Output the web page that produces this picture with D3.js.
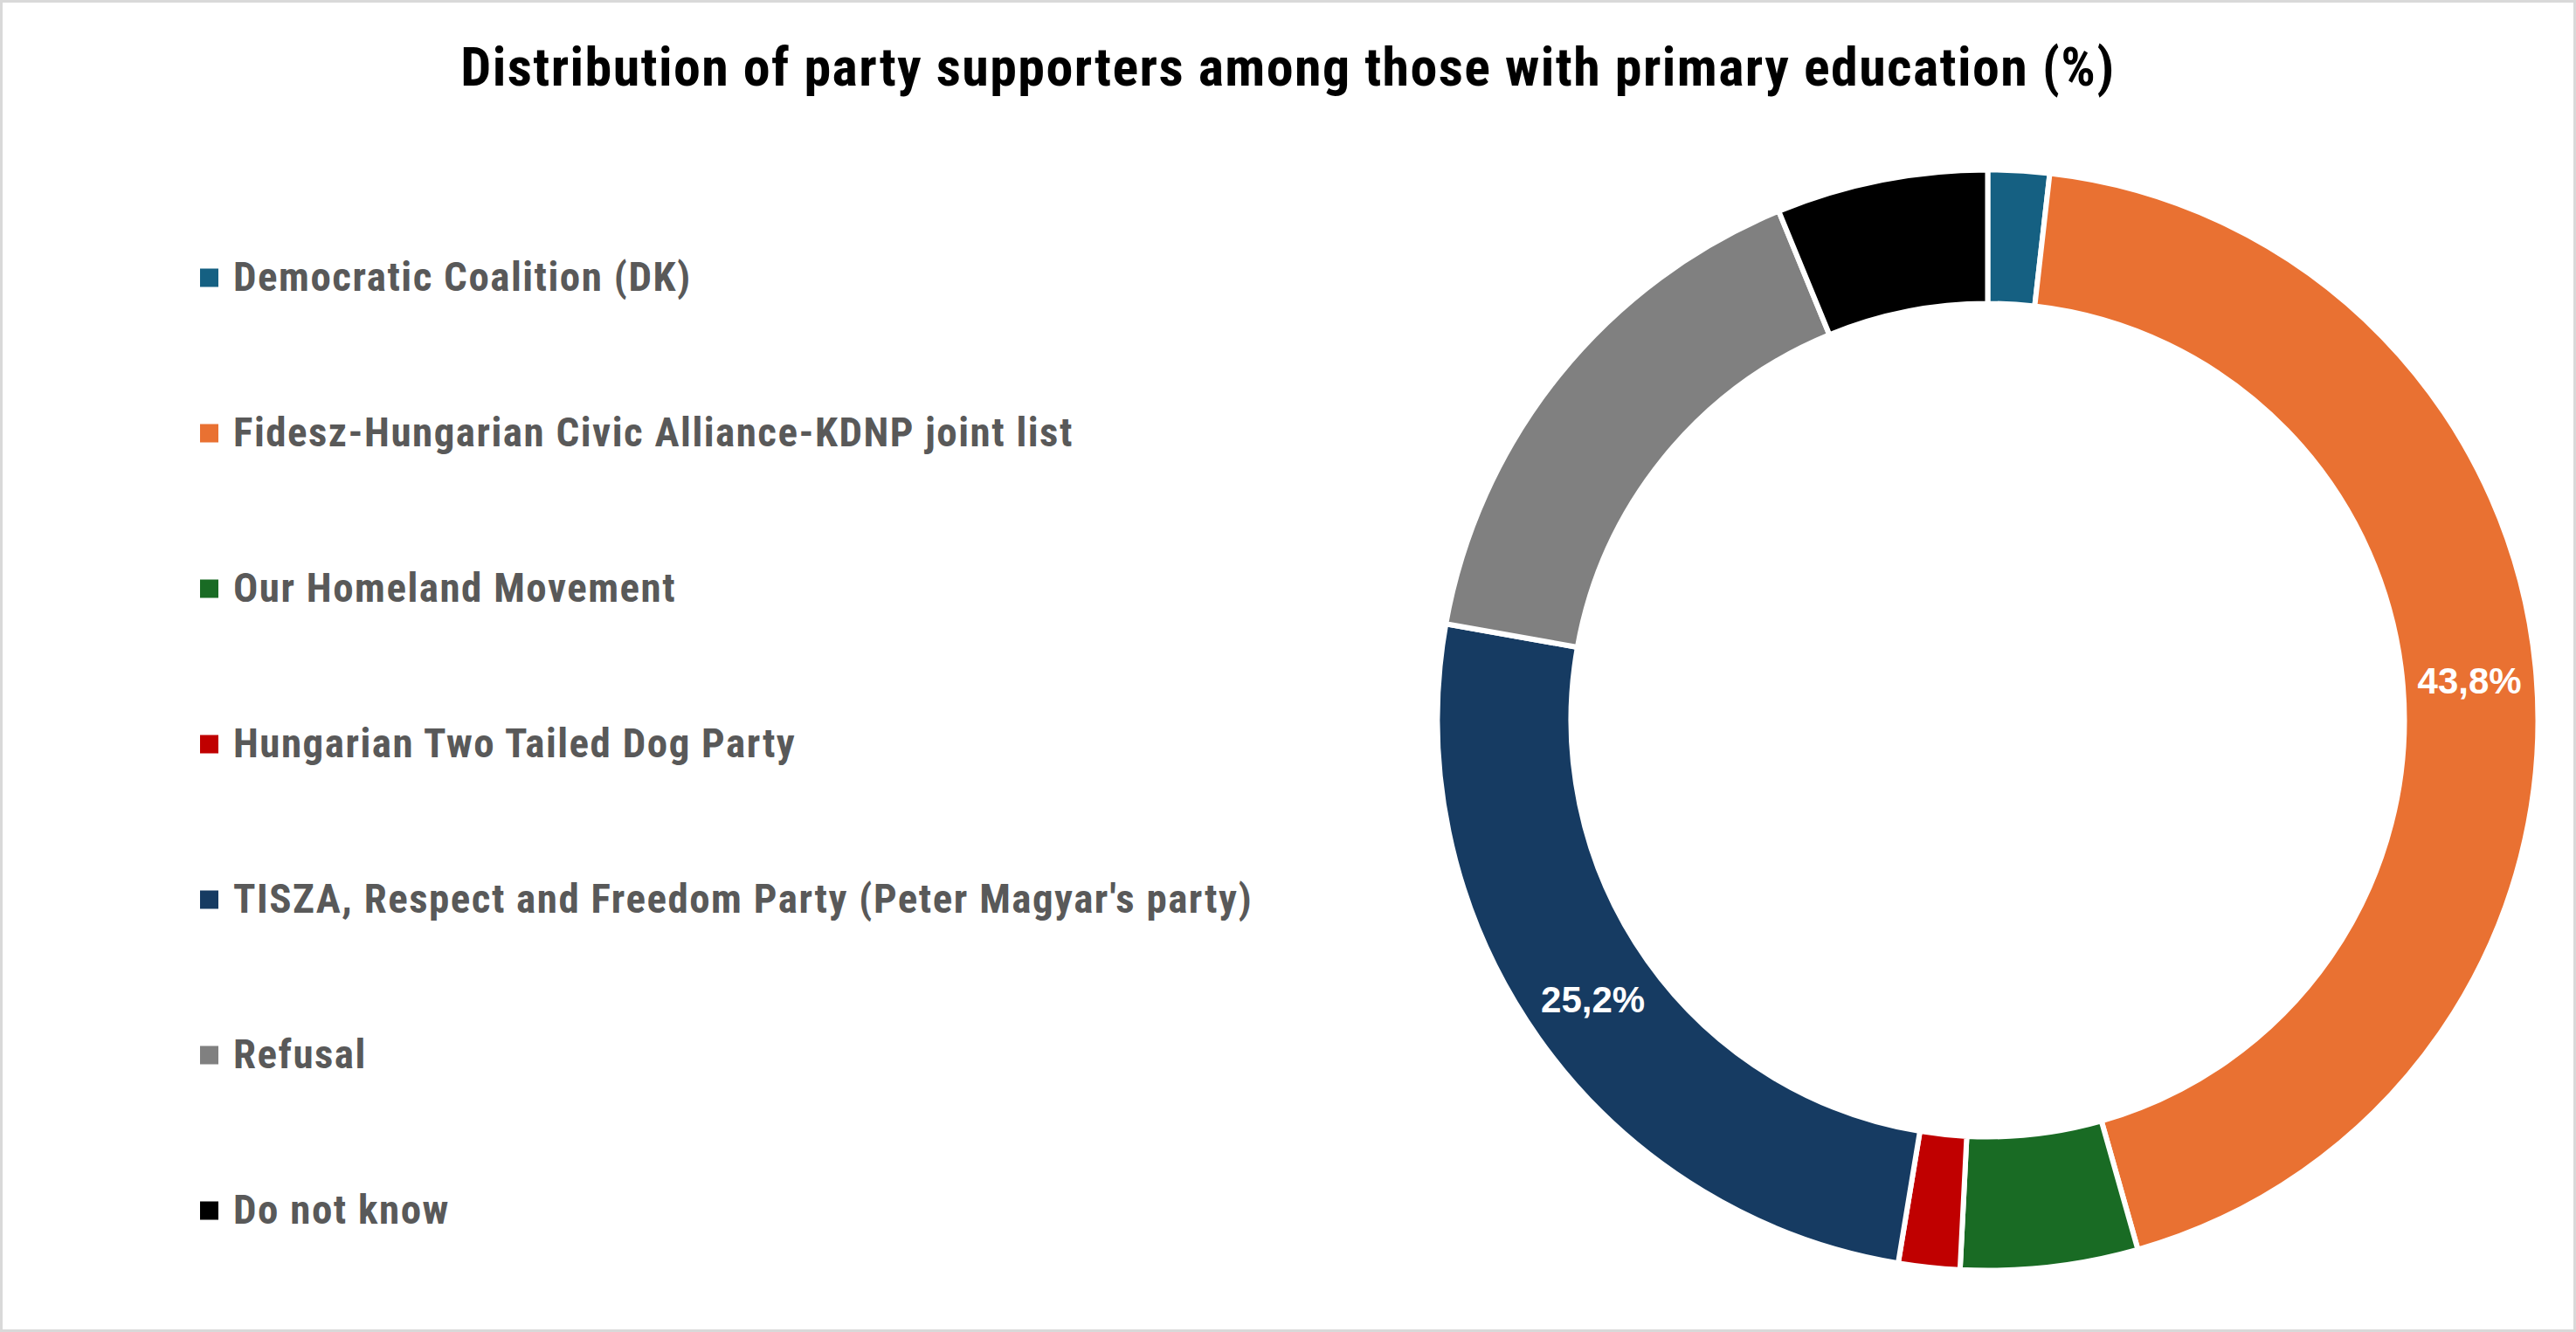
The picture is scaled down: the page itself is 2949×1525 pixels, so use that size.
<!DOCTYPE html>
<html lang="en">
<head>
  <meta charset="UTF-8">
  <title>Distribution of party supporters among those with primary education</title>
  <style>
    body {
      margin: 0;
      background-color: #fff;
    }
    .title {
      font-family: 'Liberation Sans Narrow', 'Arial Narrow', 'Roboto Condensed', sans-serif;
      font-weight: bold;
      font-size: 62px;
      letter-spacing: 1.4px;
      fill: #000;
      text-anchor: middle;
    }
    .legend-label {
      font-family: 'Liberation Sans Narrow', 'Arial Narrow', 'Roboto Condensed', sans-serif;
      font-weight: bold;
      font-size: 47px;
      letter-spacing: 1.5px;
      fill: #595959;
    }
    .slice-label {
      font-family: 'Liberation Sans', Arial, sans-serif;
      font-weight: bold;
      font-size: 42px;
      fill: #fff;
      text-anchor: middle;
    }
  </style>
  <script src="https://cdn.jsdelivr.net/npm/d3@7"></script>
</head>
<body>
<svg width="2949" height="1525"></svg>
<script>
  const parties = [
    "Democratic Coalition (DK)",
    "Fidesz-Hungarian Civic Alliance-KDNP joint list",
    "Our Homeland Movement",
    "Hungarian Two Tailed Dog Party",
    "TISZA, Respect and Freedom Party (Peter Magyar's party)",
    "Refusal",
    "Do not know"
  ];
  const shares = [1.8, 43.8, 5.2, 1.8, 25.2, 16.0, 6.2];
  const colors = ["#156082", "#E97132", "#196B24", "#C00000", "#163B62", "#808080", "#000000"];
  const labelled = [false, true, false, false, true, false, false];

  const svg = d3.select("svg"),
        width = +svg.attr("width"),
        height = +svg.attr("height");

  // chart frame
  svg.append("rect")
      .attr("x", 1.5).attr("y", 1.5)
      .attr("width", width - 3).attr("height", height - 3)
      .attr("fill", "#fff")
      .attr("stroke", "#d9d9d9")
      .attr("stroke-width", 3);

  svg.append("text")
      .attr("class", "title")
      .attr("x", width / 2)
      .attr("y", 98)
      .text("Distribution of party supporters among those with primary education (%)");

  const data = parties.map((p, i) => ({ party: p, value: shares[i], color: colors[i], show: labelled[i] }));

  // donut
  const cx = 2275.5, cy = 824.5, outerR = 630, innerR = 477;

  const pie = d3.pie().sort(null).value(d => d.value);
  const arc = d3.arc().innerRadius(innerR).outerRadius(outerR);
  const arcs = pie(data);

  const g = svg.append("g").attr("transform", `translate(${cx},${cy})`);

  g.selectAll("path")
      .data(arcs)
      .enter().append("path")
      .attr("d", arc)
      .attr("fill", d => d.data.color)
      .attr("stroke", "#fff")
      .attr("stroke-width", 6)
      .attr("stroke-linejoin", "round");

  const fmt = v => d3.format(".1f")(v).replace(".", ",") + "%";

  g.selectAll("text")
      .data(arcs.filter(d => d.data.show))
      .enter().append("text")
      .attr("class", "slice-label")
      .attr("x", d => arc.centroid(d)[0])
      .attr("y", d => arc.centroid(d)[1])
      .attr("dy", "0.36em")
      .text(d => fmt(d.data.value));

  // legend
  const legendY = d3.scalePoint()
      .domain(parties)
      .range([318, 1386]);

  const legend = svg.append("g")
      .selectAll("g")
      .data(data)
      .enter().append("g")
      .attr("transform", d => `translate(229,${legendY(d.party)})`);

  legend.append("rect")
      .attr("x", 0)
      .attr("y", -10.5)
      .attr("width", 21)
      .attr("height", 21)
      .attr("fill", d => d.color);

  legend.append("text")
      .attr("class", "legend-label")
      .attr("x", 38)
      .attr("y", 15)
      .text(d => d.party);
</script>
</body>
</html>
